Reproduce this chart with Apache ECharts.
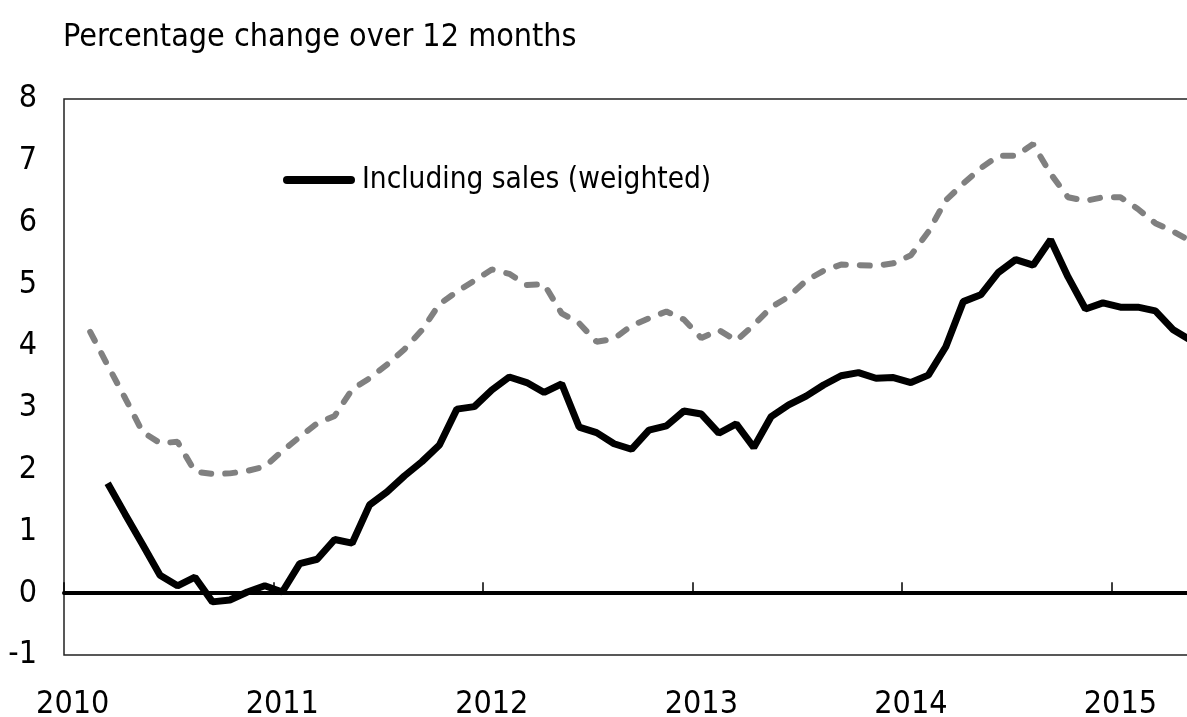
<!DOCTYPE html>
<html>
<head>
<meta charset="utf-8">
<title>Percentage change over 12 months</title>
<script src="https://cdn.jsdelivr.net/npm/echarts@6/dist/echarts.min.js"></script>
<style>
  html, body { margin: 0; padding: 0; background: #fff; overflow: hidden; }
  #chart { width: 1200px; height: 717px; }
</style>
</head>
<body>
<div id="chart"></div>
<script>
// monthly categories, Jan 2010 - May 2015
var months = [
  "2010-01", "2010-02", "2010-03", "2010-04", "2010-05", "2010-06", "2010-07", "2010-08", "2010-09", "2010-10", "2010-11", "2010-12",
  "2011-01", "2011-02", "2011-03", "2011-04", "2011-05", "2011-06", "2011-07", "2011-08", "2011-09", "2011-10", "2011-11", "2011-12",
  "2012-01", "2012-02", "2012-03", "2012-04", "2012-05", "2012-06", "2012-07", "2012-08", "2012-09", "2012-10", "2012-11", "2012-12",
  "2013-01", "2013-02", "2013-03", "2013-04", "2013-05", "2013-06", "2013-07", "2013-08", "2013-09", "2013-10", "2013-11", "2013-12",
  "2014-01", "2014-02", "2014-03", "2014-04", "2014-05", "2014-06", "2014-07", "2014-08", "2014-09", "2014-10", "2014-11", "2014-12",
  "2015-01", "2015-02", "2015-03", "2015-04", "2015-05"
];

// Including sales (weighted) - black line
var salesWeighted = [
  null, null, 1.78, 1.28, 0.79, 0.29, 0.12, 0.26, -0.14, -0.11, 0.02, 0.12,
  0.02, 0.48, 0.55, 0.87, 0.81, 1.43, 1.64, 1.90, 2.13, 2.40, 2.98, 3.02,
  3.29, 3.50, 3.41, 3.25, 3.39, 2.69, 2.60, 2.42, 2.33, 2.64, 2.71, 2.95,
  2.90, 2.59, 2.74, 2.36, 2.86, 3.05, 3.19, 3.37, 3.52, 3.57, 3.48, 3.49,
  3.41, 3.53, 3.99, 4.72, 4.83, 5.19, 5.40, 5.31, 5.72, 5.12, 4.60, 4.70,
  4.63, 4.63, 4.57, 4.27, 4.10
];

// second series - grey dashed line
var otherSeries = [
  null, 4.23, 3.69, 3.16, 2.61, 2.43, 2.45, 1.97, 1.93, 1.94, 1.98, 2.05,
  2.30, 2.53, 2.75, 2.87, 3.30, 3.48, 3.70, 3.95, 4.26, 4.68, 4.88, 5.06,
  5.24, 5.17, 4.99, 5.00, 4.53, 4.37, 4.07, 4.12, 4.33, 4.45, 4.56, 4.43,
  4.13, 4.26, 4.09, 4.34, 4.63, 4.80, 5.06, 5.22, 5.32, 5.31, 5.30, 5.34,
  5.47, 5.85, 6.36, 6.63, 6.88, 7.08, 7.08, 7.27, 6.79, 6.41, 6.35, 6.41,
  6.41, 6.22, 5.99, 5.86, 5.70
];

var yMin = -1, yMax = 8, yStep = 1;

var font = '"DejaVu Sans Condensed", "Liberation Sans Narrow", sans-serif';
var chart = echarts.init(document.getElementById("chart"));

function isJan(idx) {
  return idx % 12 === 0;
}

var option = {
  animation: false,
  textStyle: { fontFamily: font },
  title: {
    text: "Percentage change over 12 months",
    left: 63,
    top: 22,
    padding: 0,
    textStyle: { fontFamily: font, fontSize: 32, fontWeight: "normal", color: "#000" }
  },
  legend: {
    data: ["Including sales (weighted)"],
    left: 283,
    top: 165,
    padding: 0,
    itemWidth: 72,
    itemHeight: 8,
    itemGap: 5,
    icon: "path://M4,0 H68 A4,4 0 0 1 68,8 H4 A4,4 0 0 1 4,0 Z",
    textStyle: { fontFamily: font, fontSize: 29.5, color: "#000", padding: [0, 0, 0, 2] }
  },
  grid: {
    left: 64,
    top: 99,
    right: 1,
    bottom: 62,
    outerBoundsMode: "none",
    show: true,
    borderColor: "#222",
    borderWidth: 1.5
  },
  xAxis: [
    {
      type: "category",
      data: months,
      boundaryGap: true,
      position: "bottom",
      axisLine: { show: false, onZero: false },
      axisTick: { show: false },
      splitLine: { show: false },
      axisLabel: {
        interval: function (idx) { return isJan(idx); },
        formatter: function (v) { return v.slice(0, 4); },
        fontFamily: font,
        fontSize: 32,
        color: "#000",
        margin: 34
      }
    },
    {
      // zero line with year ticks
      type: "category",
      data: months,
      boundaryGap: true,
      position: "top",
      axisLine: { show: true, onZero: true, lineStyle: { color: "#000", width: 4 } },
      axisTick: {
        show: true,
        inside: false,
        length: 11,
        interval: function (idx) { return isJan(idx); },
        lineStyle: { color: "#000", width: 1.5 }
      },
      axisLabel: { show: false },
      splitLine: { show: false }
    }
  ],
  yAxis: {
    type: "value",
    min: yMin,
    max: yMax,
    interval: yStep,
    axisLine: { show: false },
    axisTick: { show: false },
    splitLine: { show: false },
    axisLabel: { fontFamily: font, fontSize: 32, color: "#000", margin: 27 }
  },
  series: [
    {
      name: "Excluding sales",
      type: "line",
      data: otherSeries,
      symbol: "none",
      z: 2,
      lineStyle: { color: "#808080", width: 6, type: [10, 14], cap: "round" },
      itemStyle: { color: "#808080" }
    },
    {
      name: "Including sales (weighted)",
      type: "line",
      data: salesWeighted,
      symbol: "none",
      z: 3,
      lineStyle: { color: "#000", width: 7 },
      itemStyle: { color: "#000" }
    }
  ]
};

chart.setOption(option);
</script>
</body>
</html>
